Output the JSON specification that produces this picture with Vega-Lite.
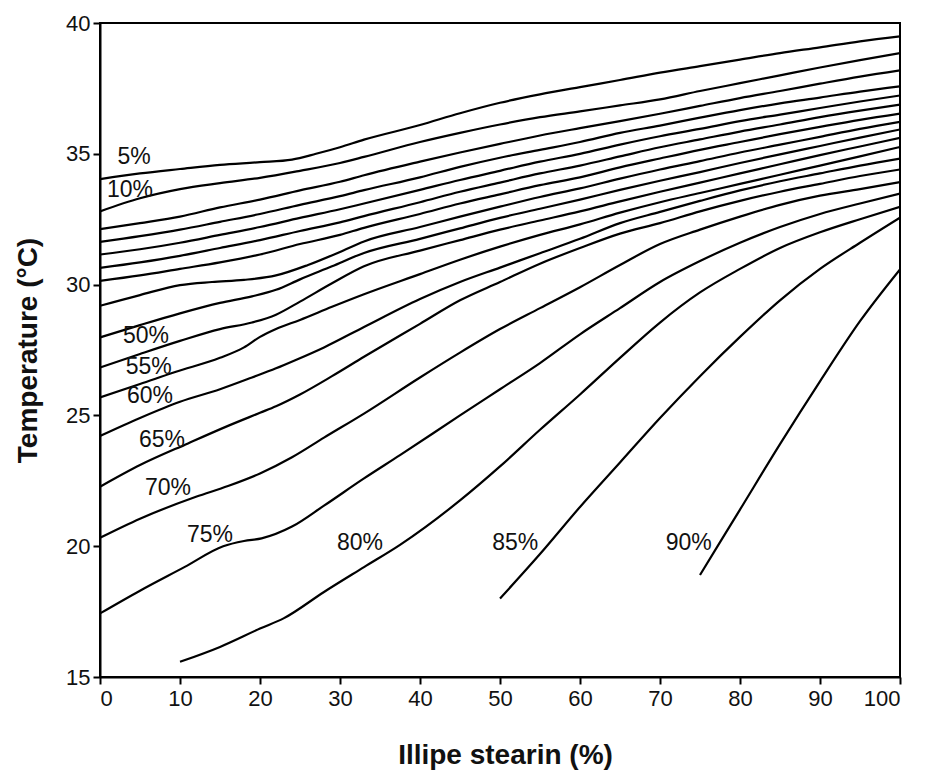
{
  "$schema": "https://vega.github.io/schema/vega-lite/v6.json",
  "width": 800,
  "height": 654,
  "autosize": {"type": "none"},
  "padding": {"left": 100, "top": 23, "right": 25, "bottom": 99},
  "background": "white",
  "config": {
    "view": {"stroke": "black", "strokeWidth": 2},
    "axis": {
      "grid": false,
      "domainColor": "black",
      "domainWidth": 2,
      "tickColor": "black",
      "tickWidth": 2,
      "tickSize": 7,
      "labelFont": "Liberation Sans",
      "labelFontSize": 22,
      "labelColor": "#111111",
      "titleFont": "Liberation Sans",
      "titleFontSize": 28,
      "titleFontWeight": "bold",
      "titleColor": "#111111"
    },
    "text": {"font": "Liberation Sans"}
  },
  "datasets": {
    "isolines": [
      {"s":5,"x":0,"t":34.03},{"s":5,"x":5,"t":34.25},{"s":5,"x":10,"t":34.42},{"s":5,"x":15,"t":34.58},{"s":5,"x":20,"t":34.68},{"s":5,"x":24,"t":34.78},{"s":5,"x":27,"t":35.0},{"s":5,"x":30,"t":35.25},{"s":5,"x":33,"t":35.54},{"s":5,"x":40,"t":36.1},{"s":5,"x":45,"t":36.55},{"s":5,"x":50,"t":36.95},{"s":5,"x":55,"t":37.27},{"s":5,"x":60,"t":37.55},{"s":5,"x":65,"t":37.82},{"s":5,"x":70,"t":38.1},{"s":5,"x":75,"t":38.35},{"s":5,"x":80,"t":38.6},{"s":5,"x":85,"t":38.85},{"s":5,"x":90,"t":39.07},{"s":5,"x":95,"t":39.3},{"s":5,"x":100,"t":39.49},
      {"s":10,"x":0,"t":32.8},{"s":10,"x":5,"t":33.3},{"s":10,"x":10,"t":33.65},{"s":10,"x":15,"t":33.88},{"s":10,"x":20,"t":34.08},{"s":10,"x":25,"t":34.35},{"s":10,"x":30,"t":34.65},{"s":10,"x":33,"t":34.88},{"s":10,"x":40,"t":35.45},{"s":10,"x":45,"t":35.8},{"s":10,"x":50,"t":36.12},{"s":10,"x":55,"t":36.4},{"s":10,"x":60,"t":36.62},{"s":10,"x":65,"t":36.85},{"s":10,"x":70,"t":37.08},{"s":10,"x":75,"t":37.4},{"s":10,"x":80,"t":37.7},{"s":10,"x":85,"t":38.0},{"s":10,"x":90,"t":38.3},{"s":10,"x":95,"t":38.58},{"s":10,"x":100,"t":38.85},
      {"s":15,"x":0,"t":32.12},{"s":15,"x":5,"t":32.35},{"s":15,"x":10,"t":32.6},{"s":15,"x":15,"t":32.95},{"s":15,"x":20,"t":33.25},{"s":15,"x":25,"t":33.6},{"s":15,"x":30,"t":33.93},{"s":15,"x":33,"t":34.18},{"s":15,"x":40,"t":34.7},{"s":15,"x":45,"t":35.05},{"s":15,"x":50,"t":35.38},{"s":15,"x":55,"t":35.7},{"s":15,"x":60,"t":35.98},{"s":15,"x":65,"t":36.25},{"s":15,"x":70,"t":36.53},{"s":15,"x":75,"t":36.83},{"s":15,"x":80,"t":37.13},{"s":15,"x":85,"t":37.4},{"s":15,"x":90,"t":37.68},{"s":15,"x":95,"t":37.95},{"s":15,"x":100,"t":38.19},
      {"s":20,"x":0,"t":31.63},{"s":20,"x":5,"t":31.85},{"s":20,"x":10,"t":32.1},{"s":20,"x":15,"t":32.4},{"s":20,"x":20,"t":32.7},{"s":20,"x":25,"t":33.05},{"s":20,"x":30,"t":33.38},{"s":20,"x":33,"t":33.61},{"s":20,"x":40,"t":34.1},{"s":20,"x":45,"t":34.5},{"s":20,"x":50,"t":34.85},{"s":20,"x":55,"t":35.15},{"s":20,"x":60,"t":35.45},{"s":20,"x":65,"t":35.8},{"s":20,"x":70,"t":36.08},{"s":20,"x":75,"t":36.38},{"s":20,"x":80,"t":36.67},{"s":20,"x":85,"t":36.93},{"s":20,"x":90,"t":37.15},{"s":20,"x":95,"t":37.38},{"s":20,"x":100,"t":37.58},
      {"s":25,"x":0,"t":31.15},{"s":25,"x":5,"t":31.35},{"s":25,"x":10,"t":31.6},{"s":25,"x":15,"t":31.9},{"s":25,"x":20,"t":32.2},{"s":25,"x":25,"t":32.55},{"s":25,"x":30,"t":32.88},{"s":25,"x":33,"t":33.1},{"s":25,"x":40,"t":33.62},{"s":25,"x":45,"t":34.0},{"s":25,"x":50,"t":34.35},{"s":25,"x":55,"t":34.7},{"s":25,"x":60,"t":35.0},{"s":25,"x":65,"t":35.35},{"s":25,"x":70,"t":35.67},{"s":25,"x":75,"t":35.95},{"s":25,"x":80,"t":36.25},{"s":25,"x":85,"t":36.5},{"s":25,"x":90,"t":36.75},{"s":25,"x":95,"t":37.0},{"s":25,"x":100,"t":37.23},
      {"s":30,"x":0,"t":30.64},{"s":30,"x":5,"t":30.85},{"s":30,"x":10,"t":31.1},{"s":30,"x":15,"t":31.4},{"s":30,"x":20,"t":31.7},{"s":30,"x":25,"t":32.05},{"s":30,"x":30,"t":32.38},{"s":30,"x":33,"t":32.62},{"s":30,"x":40,"t":33.15},{"s":30,"x":45,"t":33.55},{"s":30,"x":50,"t":33.9},{"s":30,"x":55,"t":34.25},{"s":30,"x":60,"t":34.55},{"s":30,"x":65,"t":34.9},{"s":30,"x":70,"t":35.25},{"s":30,"x":75,"t":35.55},{"s":30,"x":80,"t":35.85},{"s":30,"x":85,"t":36.12},{"s":30,"x":90,"t":36.4},{"s":30,"x":95,"t":36.65},{"s":30,"x":100,"t":36.88},
      {"s":35,"x":0,"t":30.14},{"s":35,"x":5,"t":30.35},{"s":35,"x":10,"t":30.6},{"s":35,"x":15,"t":30.85},{"s":35,"x":20,"t":31.15},{"s":35,"x":25,"t":31.55},{"s":35,"x":30,"t":31.9},{"s":35,"x":33,"t":32.17},{"s":35,"x":40,"t":32.7},{"s":35,"x":45,"t":33.1},{"s":35,"x":50,"t":33.45},{"s":35,"x":55,"t":33.8},{"s":35,"x":60,"t":34.1},{"s":35,"x":65,"t":34.48},{"s":35,"x":70,"t":34.82},{"s":35,"x":75,"t":35.15},{"s":35,"x":80,"t":35.45},{"s":35,"x":85,"t":35.75},{"s":35,"x":90,"t":36.03},{"s":35,"x":95,"t":36.3},{"s":35,"x":100,"t":36.54},
      {"s":40,"x":0,"t":29.19},{"s":40,"x":5,"t":29.6},{"s":40,"x":10,"t":29.98},{"s":40,"x":14,"t":30.1},{"s":40,"x":18,"t":30.18},{"s":40,"x":22,"t":30.35},{"s":40,"x":26,"t":30.75},{"s":40,"x":30,"t":31.25},{"s":40,"x":33,"t":31.65},{"s":40,"x":40,"t":32.2},{"s":40,"x":45,"t":32.6},{"s":40,"x":50,"t":32.98},{"s":40,"x":55,"t":33.35},{"s":40,"x":60,"t":33.68},{"s":40,"x":65,"t":34.05},{"s":40,"x":70,"t":34.4},{"s":40,"x":75,"t":34.72},{"s":40,"x":80,"t":35.05},{"s":40,"x":85,"t":35.35},{"s":40,"x":90,"t":35.65},{"s":40,"x":95,"t":35.95},{"s":40,"x":100,"t":36.22},
      {"s":45,"x":0,"t":27.98},{"s":45,"x":5,"t":28.45},{"s":45,"x":10,"t":28.9},{"s":45,"x":15,"t":29.3},{"s":45,"x":19,"t":29.55},{"s":45,"x":22,"t":29.8},{"s":45,"x":25,"t":30.2},{"s":45,"x":29,"t":30.7},{"s":45,"x":33,"t":31.21},{"s":45,"x":40,"t":31.75},{"s":45,"x":45,"t":32.15},{"s":45,"x":50,"t":32.55},{"s":45,"x":55,"t":32.9},{"s":45,"x":60,"t":33.25},{"s":45,"x":65,"t":33.62},{"s":45,"x":70,"t":33.97},{"s":45,"x":75,"t":34.3},{"s":45,"x":80,"t":34.65},{"s":45,"x":85,"t":34.98},{"s":45,"x":90,"t":35.3},{"s":45,"x":95,"t":35.62},{"s":45,"x":100,"t":35.93},
      {"s":50,"x":0,"t":26.83},{"s":50,"x":5,"t":27.35},{"s":50,"x":10,"t":27.85},{"s":50,"x":15,"t":28.3},{"s":50,"x":19,"t":28.55},{"s":50,"x":22,"t":28.85},{"s":50,"x":25,"t":29.35},{"s":50,"x":29,"t":30.05},{"s":50,"x":33,"t":30.7},{"s":50,"x":40,"t":31.3},{"s":50,"x":45,"t":31.7},{"s":50,"x":50,"t":32.1},{"s":50,"x":55,"t":32.45},{"s":50,"x":60,"t":32.8},{"s":50,"x":65,"t":33.18},{"s":50,"x":70,"t":33.55},{"s":50,"x":75,"t":33.9},{"s":50,"x":80,"t":34.25},{"s":50,"x":85,"t":34.6},{"s":50,"x":90,"t":34.95},{"s":50,"x":95,"t":35.28},{"s":50,"x":100,"t":35.61},
      {"s":55,"x":0,"t":25.69},{"s":55,"x":5,"t":26.2},{"s":55,"x":9.4,"t":26.66},{"s":55,"x":15,"t":27.2},{"s":55,"x":18,"t":27.6},{"s":55,"x":20,"t":28.0},{"s":55,"x":22,"t":28.3},{"s":55,"x":25,"t":28.65},{"s":55,"x":29,"t":29.15},{"s":55,"x":33,"t":29.63},{"s":55,"x":40,"t":30.4},{"s":55,"x":45,"t":30.95},{"s":55,"x":50,"t":31.45},{"s":55,"x":55,"t":31.9},{"s":55,"x":60,"t":32.3},{"s":55,"x":65,"t":32.75},{"s":55,"x":70,"t":33.15},{"s":55,"x":75,"t":33.5},{"s":55,"x":80,"t":33.85},{"s":55,"x":85,"t":34.2},{"s":55,"x":90,"t":34.55},{"s":55,"x":95,"t":34.9},{"s":55,"x":100,"t":35.26},
      {"s":60,"x":0,"t":24.21},{"s":60,"x":5,"t":24.9},{"s":60,"x":10,"t":25.52},{"s":60,"x":15,"t":26.0},{"s":60,"x":19,"t":26.45},{"s":60,"x":22,"t":26.8},{"s":60,"x":24.4,"t":27.11},{"s":60,"x":28,"t":27.6},{"s":60,"x":33,"t":28.38},{"s":60,"x":40,"t":29.45},{"s":60,"x":45,"t":30.1},{"s":60,"x":50,"t":30.65},{"s":60,"x":55,"t":31.2},{"s":60,"x":60,"t":31.75},{"s":60,"x":65,"t":32.35},{"s":60,"x":70,"t":32.78},{"s":60,"x":75,"t":33.2},{"s":60,"x":80,"t":33.6},{"s":60,"x":85,"t":33.95},{"s":60,"x":90,"t":34.25},{"s":60,"x":95,"t":34.55},{"s":60,"x":100,"t":34.82},
      {"s":65,"x":0,"t":22.27},{"s":65,"x":5,"t":23.1},{"s":65,"x":11,"t":23.93},{"s":65,"x":16,"t":24.6},{"s":65,"x":20,"t":25.1},{"s":65,"x":22,"t":25.35},{"s":65,"x":25,"t":25.8},{"s":65,"x":29,"t":26.5},{"s":65,"x":33,"t":27.24},{"s":65,"x":40,"t":28.5},{"s":65,"x":45,"t":29.4},{"s":65,"x":50,"t":30.1},{"s":65,"x":55,"t":30.8},{"s":65,"x":60,"t":31.4},{"s":65,"x":65,"t":31.95},{"s":65,"x":70,"t":32.35},{"s":65,"x":75,"t":32.8},{"s":65,"x":80,"t":33.2},{"s":65,"x":85,"t":33.55},{"s":65,"x":90,"t":33.85},{"s":65,"x":95,"t":34.15},{"s":65,"x":100,"t":34.4},
      {"s":70,"x":0,"t":20.32},{"s":70,"x":5,"t":21.05},{"s":70,"x":12,"t":21.89},{"s":70,"x":16,"t":22.3},{"s":70,"x":20,"t":22.78},{"s":70,"x":24,"t":23.4},{"s":70,"x":28,"t":24.15},{"s":70,"x":33,"t":25.07},{"s":70,"x":40,"t":26.45},{"s":70,"x":45,"t":27.4},{"s":70,"x":50,"t":28.3},{"s":70,"x":55,"t":29.1},{"s":70,"x":60,"t":29.9},{"s":70,"x":65,"t":30.75},{"s":70,"x":70,"t":31.55},{"s":70,"x":75,"t":32.1},{"s":70,"x":80,"t":32.6},{"s":70,"x":85,"t":33.05},{"s":70,"x":90,"t":33.4},{"s":70,"x":95,"t":33.65},{"s":70,"x":100,"t":33.92},
      {"s":75,"x":0,"t":17.43},{"s":75,"x":5,"t":18.3},{"s":75,"x":10.6,"t":19.21},{"s":75,"x":15.4,"t":20.0},{"s":75,"x":18,"t":20.2},{"s":75,"x":20.2,"t":20.3},{"s":75,"x":24,"t":20.75},{"s":75,"x":28,"t":21.55},{"s":75,"x":33,"t":22.59},{"s":75,"x":37.5,"t":23.48},{"s":75,"x":45,"t":25.0},{"s":75,"x":50,"t":26.0},{"s":75,"x":55,"t":27.0},{"s":75,"x":60,"t":28.1},{"s":75,"x":65,"t":29.1},{"s":75,"x":70,"t":30.1},{"s":75,"x":75,"t":30.9},{"s":75,"x":80,"t":31.6},{"s":75,"x":85,"t":32.2},{"s":75,"x":90,"t":32.7},{"s":75,"x":95,"t":33.1},{"s":75,"x":100,"t":33.48},
      {"s":80,"x":10,"t":15.58},{"s":80,"x":15,"t":16.15},{"s":80,"x":20,"t":16.85},{"s":80,"x":23,"t":17.25},{"s":80,"x":28,"t":18.25},{"s":80,"x":33,"t":19.2},{"s":80,"x":37.5,"t":20.05},{"s":80,"x":45,"t":21.75},{"s":80,"x":50,"t":23.05},{"s":80,"x":55,"t":24.45},{"s":80,"x":60,"t":25.8},{"s":80,"x":65,"t":27.2},{"s":80,"x":70,"t":28.55},{"s":80,"x":75,"t":29.7},{"s":80,"x":80,"t":30.6},{"s":80,"x":85,"t":31.4},{"s":80,"x":90,"t":32.0},{"s":80,"x":95,"t":32.5},{"s":80,"x":100,"t":32.97},
      {"s":85,"x":50,"t":18.0},{"s":85,"x":55,"t":19.7},{"s":85,"x":60,"t":21.5},{"s":85,"x":65,"t":23.2},{"s":85,"x":70,"t":24.9},{"s":85,"x":75,"t":26.5},{"s":85,"x":80,"t":28.0},{"s":85,"x":85,"t":29.4},{"s":85,"x":90,"t":30.6},{"s":85,"x":95,"t":31.6},{"s":85,"x":100,"t":32.56},
      {"s":90,"x":75,"t":18.9},{"s":90,"x":80,"t":21.4},{"s":90,"x":85,"t":23.9},{"s":90,"x":90,"t":26.3},{"s":90,"x":95,"t":28.6},{"s":90,"x":100,"t":30.58}
    ],
    "labels": [
      {"label":"5%","x":4.25,"t":34.87},
      {"label":"10%","x":3.75,"t":33.6},
      {"label":"50%","x":5.75,"t":28.03},
      {"label":"55%","x":6.1,"t":26.85},
      {"label":"60%","x":6.25,"t":25.74},
      {"label":"65%","x":7.75,"t":24.06},
      {"label":"70%","x":8.5,"t":22.23},
      {"label":"75%","x":13.75,"t":20.43},
      {"label":"80%","x":32.5,"t":20.12},
      {"label":"85%","x":51.9,"t":20.12},
      {"label":"90%","x":73.6,"t":20.12}
    ]
  },
  "layer": [
    {
      "data": {"name": "isolines"},
      "mark": {"type": "line", "interpolate": "monotone", "color": "black", "strokeWidth": 2.2, "clip": true},
      "encoding": {
        "x": {
          "field": "x", "type": "quantitative",
          "scale": {"domain": [0, 100], "nice": false},
          "axis": {
            "title": "Illipe stearin (%)",
            "values": [0, 10, 20, 30, 40, 50, 60, 70, 80, 90, 100],
            "labelPadding": 4,
            "titleX": 405,
            "titleY": 78,
            "titleBaseline": "middle",
            "titleAlign": "center"
          }
        },
        "y": {
          "field": "t", "type": "quantitative",
          "scale": {"domain": [15, 40], "nice": false, "zero": false},
          "axis": {
            "title": "Temperature (°C)",
            "values": [15, 20, 25, 30, 35, 40],
            "labelPadding": 3,
            "titleX": -72,
            "titleY": 327,
            "titleAngle": 270,
            "titleAlign": "center",
            "titleBaseline": "middle"
          }
        },
        "detail": {"field": "s", "type": "nominal"}
      }
    },
    {
      "data": {"name": "labels"},
      "mark": {"type": "text", "fontSize": 23, "color": "#111111", "align": "center", "baseline": "middle"},
      "encoding": {
        "x": {"field": "x", "type": "quantitative"},
        "y": {"field": "t", "type": "quantitative"},
        "text": {"field": "label", "type": "nominal"}
      }
    }
  ]
}
